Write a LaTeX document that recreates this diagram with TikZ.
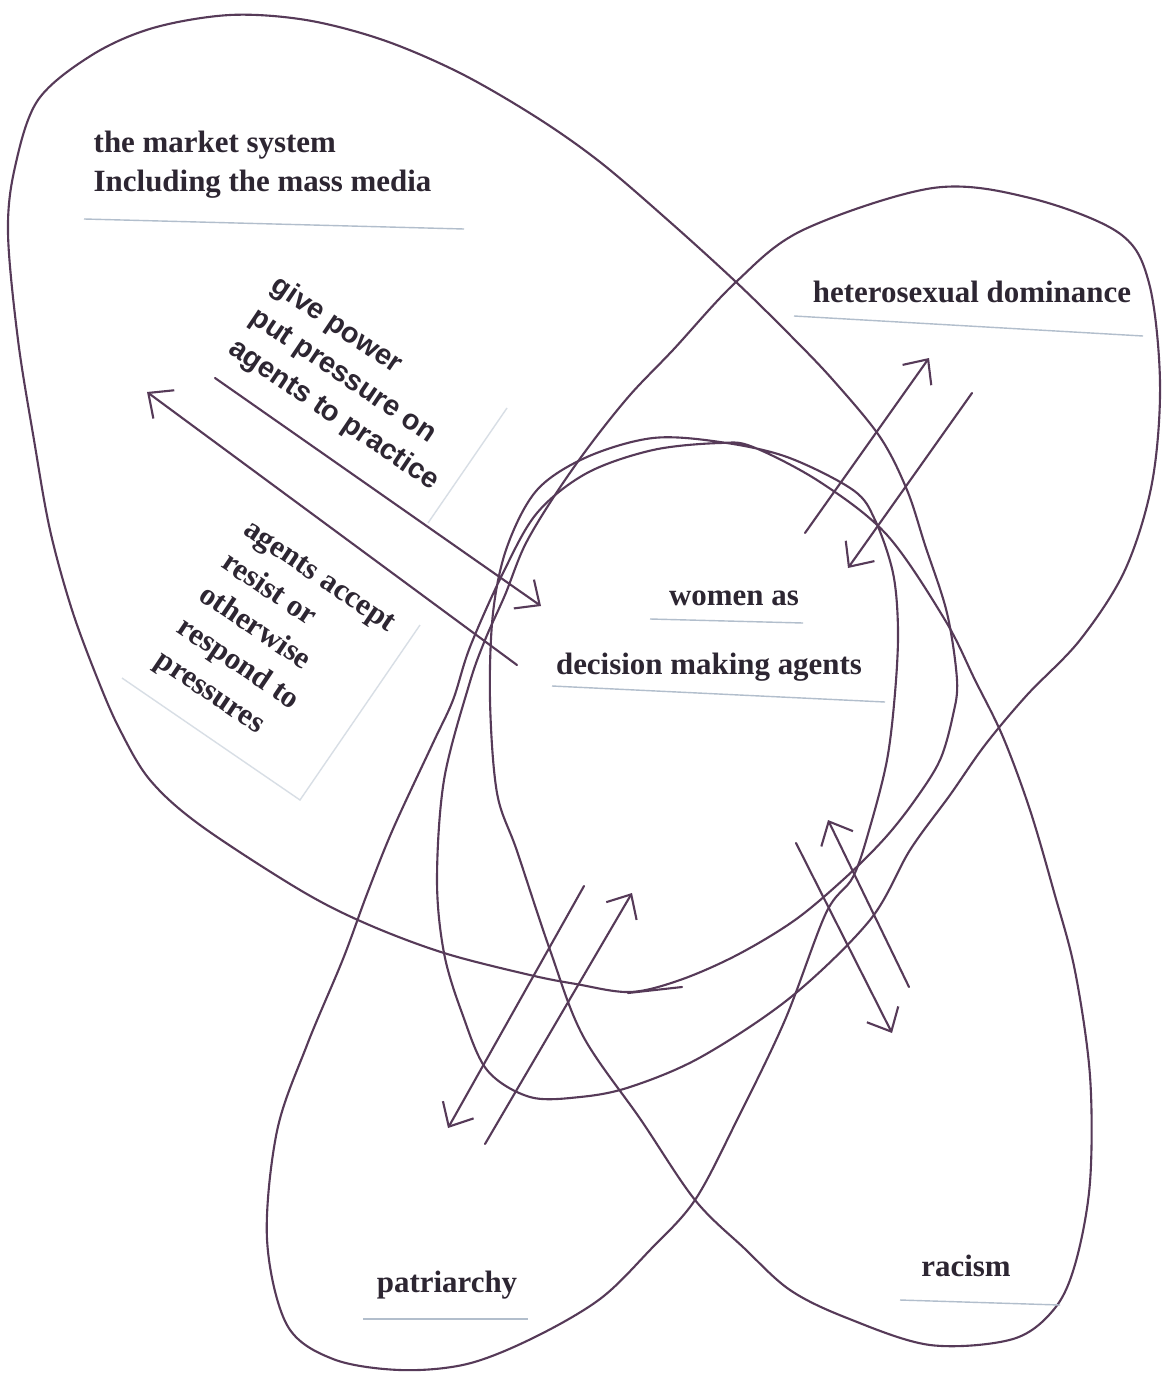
\documentclass[tikz,border=0pt]{standalone}
\usepackage{fontspec}
\setmainfont{Liberation Serif}
\newfontfamily\armfont{Liberation Sans}
\usetikzlibrary{arrows.meta}
\definecolor{ink}{RGB}{86,58,88}
\definecolor{typeink}{RGB}{45,38,50}
\definecolor{scrapline}{RGB}{178,190,204}

\begin{document}
\begin{tikzpicture}
  [%%%%%%%%%%%%%%%%%%%%%%%%%%%%%%%%%%%%%%%%%%%%%%%%%%%%%%%%%%
    x=0.1mm,y=-0.1mm,>={Straight Barb[length=5.5pt,width=10pt]},
    blob/.style={draw=ink,line width=0.6pt,line cap=round,line join=round},
    push/.style={->,draw=ink,line width=0.6pt,line cap=round},
    lbl/.style={text=typeink,font=\fontsize{8.8}{11}\selectfont\bfseries,inner sep=0pt},
    tilted/.style={lbl,rotate=-34,align=left,font=\fontsize{8.8}{11.2}\selectfont\bfseries},
    scrap/.style={draw=scrapline,line width=0.4pt}
  ]%%%%%%%%%%%%%%%%%%%%%%%%%%%%%%%%%%%%%%%%%%%%%%%%%%%%%%%%%%
  \fill[white,use as bounding box] (0,0) rectangle (1162,1376);

  % the market system
  \draw[blob] plot[smooth cycle,tension=0.55] coordinates {
    (230,15) (306,20) (383,40) (460,73) (536,117) (600,162) (670,222)
    (736,282) (790,335) (833,380) (880,437) (907,490) (925,545) (947,613)
    (957,680) (953,715) (940,760) (915,800) (885,838) (845,878) (795,920)
    (737,955) (680,980) (630,992) (576,984) (530,975) (444,953) (367,924)
    (300,890) (200,825) (150,780) (120,730) (98,680) (72,610) (50,530)
    (34,440) (18,340) (8,233) (15,167) (38,100) (92,55) (153,28)};
  \draw[blob] (628,993) -- (682,987);

  % heterosexual dominance
  \draw[blob] plot[smooth cycle,tension=0.55] coordinates {
    (933,188) (1030,198) (1119,233) (1149,283) (1160,383) (1152,483)
    (1125,570) (1080,640) (1027,695) (985,745) (950,795) (910,850)
    (870,920) (791,997) (701,1057) (630,1087) (580,1097) (530,1097)
    (487,1070) (462,1013) (444,953) (437,880) (444,780) (469,685)
    (485,640) (505,595) (525,545) (555,495) (590,445) (630,395)
    (673,350) (736,282) (803,230)};

  % patriarchy and racism, one stroke crossing itself
  \draw[blob] plot[smooth cycle,tension=0.55] coordinates {
    (695,1200) (744,1248) (790,1290) (847,1318) (930,1345) (1013,1339)
    (1055,1308) (1076,1261) (1090,1182) (1090,1076) (1075,971) (1054,892)
    (1030,810) (1003,737) (975,680) (945,620) (887,535) (820,482)
    (753,447) (720,443) (653,450) (587,473) (537,513) (503,573)
    (470,647) (453,700) (433,743) (393,829) (367,894) (343,959)
    (307,1045) (277,1131) (267,1239) (287,1325) (333,1359) (400,1370)
    (467,1364) (533,1338) (600,1299) (650,1250) (695,1200) (737,1120)
    (785,1020) (826,913) (853,877) (870,827) (887,760) (895,693)
    (898,630) (893,573) (875,520) (853,490) (787,457) (720,442)
    (653,438) (587,457) (537,490) (507,547) (493,613) (490,700)
    (497,793) (517,851) (550,950) (583,1036) (641,1120)};

  % pasted label edges
  \draw[scrap] (84,219) -- (464,229);
  \draw[scrap] (794,316) -- (1143,336);
  \draw[scrap] (650,619) -- (803,623);
  \draw[scrap] (552,686) -- (885,702);
  \draw[scrap] (363,1319) -- (528,1319);
  \draw[scrap] (900,1300) -- (1060,1305);
  \draw[scrap,draw opacity=0.5] (507,408) -- (428,523);
  \draw[scrap,draw opacity=0.5] (420,625) -- (300,800) -- (122,678);

  % labels
  \node[lbl,align=left,anchor=west] (market) at (93,165)
       {the market system\\Including the mass media};
  \node[lbl] (hetero) at (972,292) {heterosexual dominance};
  \node[lbl] (womenas) at (734,598) {women as};
  \node[lbl] (agents) at (709,667) {decision making agents};
  \node[lbl] (patri) at (447,1285) {patriarchy};
  \node[lbl] (racism) at (966,1266) {racism};
  \node[tilted,font=\armfont\fontsize{8.2}{10.8}\selectfont\bfseries] (give) at (355,384)
       {give power\\put pressure on\\agents to practice};
  \node[tilted] (accept) at (274,644)
       {agents accept\\resist or\\otherwise\\respond to\\pressures};

  % pressures and responses
  \coordinate (m1) at (215,378);  \coordinate (w1) at (541,606);
  \coordinate (w2) at (517,665);  \coordinate (m2) at (147,392);
  \coordinate (h1s) at (805,533); \coordinate (h1e) at (929,358);
  \coordinate (h2s) at (972,393); \coordinate (h2e) at (848,568);
  \coordinate (p1s) at (485,1144); \coordinate (p1e) at (632,893);
  \coordinate (p2s) at (584,886); \coordinate (p2e) at (448,1128);
  \coordinate (r1s) at (909,987); \coordinate (r1e) at (828,820);
  \coordinate (r2s) at (796,843); \coordinate (r2e) at (892,1033);

  \draw[push] (m1) -- (w1);
  \draw[push] (w2) -- (m2);
  \draw[push] (h1s) -- (h1e);
  \draw[push] (h2s) -- (h2e);
  \draw[push] (p1s) -- (p1e);
  \draw[push] (p2s) -- (p2e);
  \draw[push] (r1s) -- (r1e);
  \draw[push] (r2s) -- (r2e);
\end{tikzpicture}
\end{document}
